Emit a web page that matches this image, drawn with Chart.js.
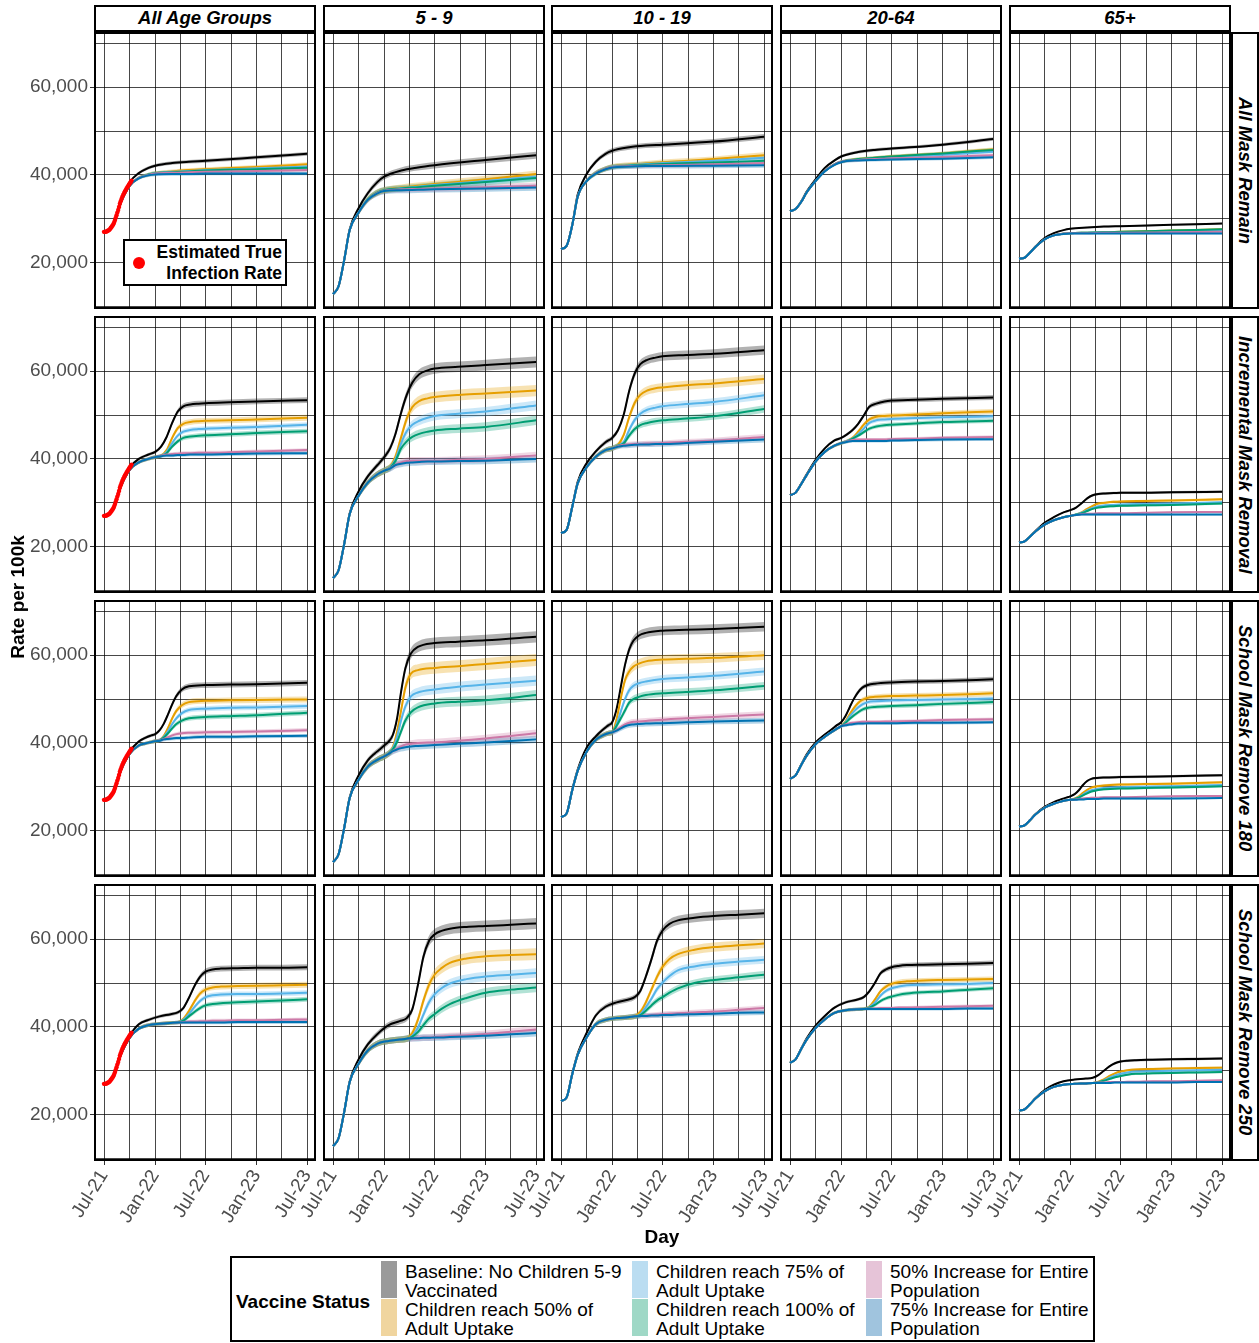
<!DOCTYPE html>
<html>
<head>
<meta charset="utf-8">
<script src="https://cdn.jsdelivr.net/npm/chart.js@4.4.1/dist/chart.umd.min.js"></script>
<style>
  body { margin: 0; background: #fff; width: 1259px; height: 1343px; position: relative; overflow: hidden;
         font-family: 'Liberation Sans', Arial, sans-serif; color: #000; }
  canvas { position: absolute; }
  .overlay { position: absolute; z-index: 2; }
  .strip-top { position: absolute; z-index: 2; top: 5px; height: 27px; box-sizing: border-box; border: 2px solid #000;
               background: #fff; font-weight: bold; font-style: italic; font-size: 18.5px; line-height: 22px; text-align: center; }
  .strip-right { position: absolute; z-index: 2; left: 1231px; width: 28px; box-sizing: border-box; border: 2px solid #000;
                 background: #fff; font-weight: bold; font-style: italic; font-size: 18.5px; writing-mode: vertical-rl;
                 text-align: center; line-height: 24px; }
  .key { position: absolute; z-index: 2; width: 16px; height: 37px; }
  .key-text { position: absolute; z-index: 2; font-size: 19px; line-height: 19px; white-space: pre-line; }
</style>
</head>
<body>
<div class="overlay" style="left:-132px; top:586px; width:300px; text-align:center; font-weight:bold; font-size:19px; transform:rotate(-90deg);">Rate per 100k</div>
<div class="overlay" style="left:612px; top:1226px; width:100px; text-align:center; font-weight:bold; font-size:19px;">Day</div>
<div class="overlay" style="left:123px; top:239px; width:164px; height:47px; box-sizing:border-box; border:2px solid #000; background:#fff;">
  <span style="position:absolute; left:8px; top:16px; width:12px; height:12px; border-radius:50%; background:#ff0000;"></span>
  <div style="position:absolute; right:3px; top:1px; text-align:right; font-weight:bold; font-size:17.5px; line-height:21px;">Estimated True<br>Infection Rate</div>
</div>
<div class="overlay" style="left:230px; top:1256px; width:865px; height:86px; box-sizing:border-box; border:2px solid #000; background:#fff;"></div>
<div class="overlay" style="left:236px; top:1291px; font-weight:bold; font-size:19px;">Vaccine Status</div>
<script>
// ---- categories and ticks ----
const ageGroups = ['All Age Groups', '5 - 9', '10 - 19', '20-64', '65+'];
const maskScenarios = ['All Mask Remain', 'Incremental Mask Removal', 'School Mask Remove 180', 'School Mask Remove 250'];
const vaccineStatus = [
    'Baseline: No Children 5-9\nVaccinated',
    'Children reach 50% of\nAdult Uptake',
    'Children reach 75% of\nAdult Uptake',
    'Children reach 100% of\nAdult Uptake',
    '50% Increase for Entire\nPopulation',
    '75% Increase for Entire\nPopulation'
];
// days since 2021-07-01
const tickDays = [0, 92, 184, 274, 365, 457, 549, 639, 730];
const tickLabels = ['Jul-21', '', 'Jan-22', '', 'Jul-22', '', 'Jan-23', '', 'Jul-23'];
const yTicks = [10, 20, 30, 40, 50, 60, 70]; // thousands

// observed estimate (first column)
const redDays = [0, 3, 6, 9, 12, 15, 18, 21, 24, 27, 30, 33, 36, 39, 42, 45, 48, 51, 54, 57,
                 60, 63, 66, 69, 72, 75, 78, 81, 84, 87, 90, 93, 96, 99];
const redRate = [27.0, 27.0, 27.0, 27.1, 27.2, 27.3, 27.4, 27.6, 27.9, 28.1, 28.4, 28.7, 29.1, 29.6, 30.2, 30.8, 31.4, 32.0, 32.7, 33.4,
                 34.0, 34.5, 35.0, 35.4, 35.8, 36.2, 36.5, 36.9, 37.2, 37.5, 37.8, 38.1, 38.4, 38.7];

// ---- x positions per mask scenario (days) ----
const daysRemain = [0, 20, 40, 60, 92, 125, 160, 184, 245, 305, 365, 549, 730];
const daysIncr = [0, 20, 40, 60, 92, 125, 160, 184, 205, 225, 245, 265, 285, 310, 340, 365, 450, 549, 730];
const days180 = [0, 20, 40, 60, 92, 125, 150, 170, 184, 200, 215, 230, 245, 260, 280, 305, 365, 450, 549, 730];
const days250 = [0, 20, 40, 60, 92, 125, 160, 200, 240, 265, 285, 305, 325, 345, 365, 390, 420, 480, 549, 640, 730];

// rates per 100k in thousands; series order: baseline, 50%, 75%, 100%, +50% all, +75% all
const remainAll = [
    [27.0, 27.5, 29.8, 34.0, 38.3, 40.4, 41.6, 42.1, 42.7, 43.0, 43.2, 44.0, 44.8],
    [27.0, 27.5, 29.7, 33.6, 37.5, 39.3, 40.1, 40.4, 40.8, 41.1, 41.3, 41.8, 42.4],
    [27.0, 27.5, 29.7, 33.6, 37.5, 39.3, 40.1, 40.4, 40.7, 40.9, 41.1, 41.5, 41.9],
    [27.0, 27.5, 29.7, 33.6, 37.5, 39.3, 40.1, 40.4, 40.6, 40.8, 41.0, 41.3, 41.6],
    [27.0, 27.5, 29.7, 33.6, 37.5, 39.3, 40.0, 40.3, 40.5, 40.6, 40.7, 40.9, 41.1],
    [27.0, 27.5, 29.7, 33.6, 37.5, 39.2, 39.9, 40.1, 40.2, 40.2, 40.3, 40.3, 40.3]
];
const remain5to9 = [
    [12.8, 14.6, 20.6, 27.6, 32.4, 35.8, 38.4, 39.6, 41.0, 41.7, 42.2, 43.4, 44.5],
    [12.8, 14.6, 20.5, 27.4, 31.4, 34.4, 36.0, 36.5, 37.1, 37.5, 37.9, 39.0, 40.2],
    [12.8, 14.6, 20.5, 27.4, 31.4, 34.4, 36.0, 36.5, 37.0, 37.3, 37.7, 38.6, 39.6],
    [12.8, 14.6, 20.5, 27.4, 31.4, 34.4, 36.0, 36.5, 36.9, 37.2, 37.5, 38.4, 39.3],
    [12.8, 14.6, 20.5, 27.4, 31.4, 34.3, 35.9, 36.4, 36.7, 36.8, 36.9, 37.2, 37.5],
    [12.8, 14.6, 20.5, 27.4, 31.4, 34.3, 35.8, 36.3, 36.5, 36.6, 36.7, 36.9, 37.1]
];
const remain10to19 = [
    [23.1, 23.8, 28.5, 35.5, 40.2, 43.0, 44.8, 45.5, 46.3, 46.7, 46.9, 47.6, 48.7],
    [23.1, 23.8, 28.4, 35.0, 38.6, 40.4, 41.4, 41.9, 42.3, 42.6, 42.9, 43.6, 44.5],
    [23.1, 23.8, 28.4, 35.0, 38.6, 40.4, 41.4, 41.9, 42.2, 42.5, 42.7, 43.2, 43.9],
    [23.1, 23.8, 28.4, 35.0, 38.6, 40.4, 41.4, 41.8, 42.1, 42.3, 42.5, 42.8, 43.2],
    [23.1, 23.8, 28.4, 35.0, 38.6, 40.4, 41.4, 41.8, 42.0, 42.1, 42.2, 42.4, 42.7],
    [23.1, 23.8, 28.4, 35.0, 38.6, 40.3, 41.3, 41.7, 41.9, 42.0, 42.0, 42.1, 42.2]
];
const remain20to64 = [
    [31.7, 32.2, 33.9, 36.2, 39.0, 41.6, 43.3, 44.2, 45.2, 45.7, 46.0, 46.9, 48.2],
    [31.7, 32.2, 33.8, 36.0, 38.6, 40.9, 42.4, 43.0, 43.6, 43.9, 44.2, 44.9, 45.8],
    [31.7, 32.2, 33.8, 36.0, 38.6, 40.9, 42.4, 43.0, 43.5, 43.8, 44.0, 44.6, 45.3],
    [31.7, 32.2, 33.8, 36.0, 38.6, 40.9, 42.4, 43.0, 43.6, 43.9, 44.2, 44.9, 45.7],
    [31.7, 32.2, 33.8, 36.0, 38.6, 40.9, 42.4, 43.0, 43.4, 43.6, 43.8, 44.1, 44.5],
    [31.7, 32.2, 33.8, 36.0, 38.6, 40.8, 42.3, 42.9, 43.3, 43.4, 43.5, 43.7, 44.0]
];
const remain65plus = [
    [20.9, 21.1, 22.3, 23.7, 25.6, 26.7, 27.4, 27.7, 28.0, 28.2, 28.3, 28.6, 28.9],
    [20.9, 21.1, 22.3, 23.6, 25.3, 26.2, 26.6, 26.7, 26.8, 26.9, 27.0, 27.3, 27.6],
    [20.9, 21.1, 22.3, 23.6, 25.3, 26.2, 26.6, 26.7, 26.8, 26.9, 26.9, 27.1, 27.3],
    [20.9, 21.1, 22.3, 23.6, 25.3, 26.2, 26.6, 26.7, 26.8, 26.9, 27.0, 27.3, 27.6],
    [20.9, 21.1, 22.3, 23.6, 25.3, 26.2, 26.6, 26.7, 26.7, 26.8, 26.8, 26.9, 27.0],
    [20.9, 21.1, 22.3, 23.6, 25.3, 26.2, 26.5, 26.6, 26.6, 26.6, 26.6, 26.6, 26.6]
];

const incrAll = [
    [27.0, 27.5, 29.8, 34.0, 38.0, 40.0, 41.0, 41.6, 42.8, 45.0, 48.2, 50.8, 52.0, 52.4, 52.6, 52.7, 52.9, 53.1, 53.4],
    [27.0, 27.5, 29.7, 33.6, 37.5, 39.2, 40.0, 40.4, 40.7, 42.0, 44.8, 47.0, 48.0, 48.4, 48.6, 48.7, 48.8, 49.0, 49.4],
    [27.0, 27.5, 29.7, 33.6, 37.5, 39.2, 40.0, 40.4, 40.7, 41.6, 43.6, 45.3, 46.2, 46.6, 46.8, 46.9, 47.1, 47.3, 47.8],
    [27.0, 27.5, 29.7, 33.6, 37.5, 39.2, 40.0, 40.4, 40.7, 41.3, 42.8, 44.0, 44.8, 45.1, 45.3, 45.4, 45.6, 45.9, 46.3],
    [27.0, 27.5, 29.7, 33.6, 37.5, 39.2, 40.0, 40.4, 40.7, 41.0, 41.1, 41.2, 41.3, 41.3, 41.4, 41.4, 41.5, 41.7, 42.0],
    [27.0, 27.5, 29.7, 33.6, 37.5, 39.2, 40.0, 40.4, 40.6, 40.8, 40.8, 40.9, 40.9, 41.0, 41.0, 41.0, 41.1, 41.2, 41.3]
];
const incr5to9 = [
    [12.8, 14.6, 20.6, 27.6, 32.6, 36.0, 38.6, 40.4, 42.4, 45.8, 50.6, 54.6, 57.4, 59.3, 60.2, 60.6, 61.0, 61.4, 62.1],
    [12.8, 14.6, 20.5, 27.4, 31.6, 34.6, 36.5, 37.3, 38.2, 40.6, 45.0, 49.2, 51.8, 53.2, 53.8, 54.1, 54.6, 54.9, 55.6],
    [12.8, 14.6, 20.5, 27.4, 31.6, 34.6, 36.5, 37.3, 38.1, 40.0, 43.6, 46.3, 47.8, 48.7, 49.4, 49.8, 50.3, 50.8, 52.2],
    [12.8, 14.6, 20.5, 27.4, 31.6, 34.6, 36.5, 37.3, 38.0, 39.6, 42.4, 44.0, 45.0, 45.7, 46.2, 46.5, 46.9, 47.3, 48.8],
    [12.8, 14.6, 20.5, 27.4, 31.6, 34.6, 36.5, 37.3, 37.9, 38.7, 39.2, 39.5, 39.6, 39.6, 39.6, 39.6, 39.8, 40.0, 40.8],
    [12.8, 14.6, 20.5, 27.4, 31.6, 34.6, 36.5, 37.3, 37.8, 38.6, 38.9, 39.1, 39.2, 39.3, 39.4, 39.4, 39.5, 39.6, 40.0]
];
const incr10to19 = [
    [23.1, 23.8, 29.0, 34.8, 39.0, 41.7, 43.8, 44.8, 46.6, 50.0, 55.5, 59.5, 61.6, 62.6, 63.1, 63.4, 63.7, 64.0, 64.8],
    [23.1, 23.8, 28.9, 34.4, 38.1, 40.5, 42.0, 42.4, 43.2, 45.4, 49.5, 52.8, 54.6, 55.6, 56.1, 56.3, 56.8, 57.2, 58.2],
    [23.1, 23.8, 28.9, 34.4, 38.1, 40.5, 42.0, 42.4, 43.1, 43.8, 46.6, 48.9, 50.3, 51.2, 51.7, 52.0, 52.5, 53.0, 54.5],
    [23.1, 23.8, 28.9, 34.4, 38.1, 40.5, 42.0, 42.4, 43.0, 43.5, 45.3, 46.8, 47.7, 48.2, 48.6, 48.8, 49.2, 49.7, 51.4],
    [23.1, 23.8, 28.9, 34.4, 38.1, 40.5, 42.0, 42.4, 42.9, 43.2, 43.3, 43.4, 43.4, 43.5, 43.5, 43.6, 43.9, 44.2, 45.0],
    [23.1, 23.8, 28.9, 34.4, 38.1, 40.5, 42.0, 42.4, 42.8, 43.0, 43.1, 43.2, 43.3, 43.3, 43.4, 43.4, 43.6, 43.9, 44.4]
];
const incr20to64 = [
    [31.7, 32.3, 34.3, 36.5, 39.8, 42.4, 44.2, 44.8, 45.6, 46.6, 48.0, 49.9, 51.9, 52.6, 53.1, 53.3, 53.5, 53.7, 54.0],
    [31.7, 32.3, 34.2, 36.3, 39.4, 41.6, 43.0, 43.6, 44.1, 44.8, 46.2, 47.8, 49.0, 49.6, 49.8, 49.9, 50.1, 50.4, 50.8],
    [31.7, 32.3, 34.2, 36.3, 39.4, 41.6, 43.0, 43.6, 44.1, 44.7, 45.7, 46.9, 48.2, 48.8, 49.0, 49.1, 49.3, 49.5, 49.7],
    [31.7, 32.3, 34.2, 36.3, 39.4, 41.6, 43.0, 43.6, 44.0, 44.6, 45.3, 46.1, 46.9, 47.4, 47.7, 47.8, 48.1, 48.4, 48.7],
    [31.7, 32.3, 34.2, 36.3, 39.4, 41.6, 43.0, 43.6, 44.0, 44.3, 44.4, 44.4, 44.4, 44.4, 44.4, 44.5, 44.6, 44.8, 45.0],
    [31.7, 32.3, 34.2, 36.3, 39.4, 41.6, 43.0, 43.6, 43.9, 44.1, 44.1, 44.1, 44.1, 44.1, 44.1, 44.2, 44.3, 44.4, 44.5]
];
const incr65plus = [
    [20.9, 21.2, 22.3, 23.6, 25.4, 26.7, 27.8, 28.3, 28.9, 29.9, 31.0, 31.7, 32.0, 32.1, 32.2, 32.3, 32.3, 32.4, 32.5],
    [20.9, 21.2, 22.3, 23.5, 25.0, 26.0, 26.7, 27.0, 27.3, 27.8, 28.6, 29.3, 29.8, 30.0, 30.2, 30.3, 30.4, 30.5, 30.8],
    [20.9, 21.2, 22.3, 23.5, 25.0, 26.0, 26.7, 27.0, 27.3, 27.7, 28.3, 28.8, 29.2, 29.4, 29.5, 29.6, 29.7, 29.8, 30.1],
    [20.9, 21.2, 22.3, 23.5, 25.0, 26.0, 26.7, 27.0, 27.3, 27.6, 28.1, 28.6, 28.9, 29.1, 29.2, 29.3, 29.4, 29.5, 29.8],
    [20.9, 21.2, 22.3, 23.5, 25.0, 26.0, 26.7, 27.0, 27.2, 27.4, 27.5, 27.5, 27.6, 27.6, 27.6, 27.6, 27.7, 27.8, 27.9],
    [20.9, 21.2, 22.3, 23.5, 25.0, 26.0, 26.7, 27.0, 27.2, 27.3, 27.3, 27.3, 27.3, 27.3, 27.3, 27.3, 27.3, 27.3, 27.3]
];

const school180All = [
    [27.0, 27.5, 29.8, 34.0, 38.0, 40.3, 41.2, 41.7, 42.0, 42.9, 44.4, 46.5, 48.8, 50.7, 52.2, 52.9, 53.2, 53.3, 53.4, 53.7],
    [27.0, 27.5, 29.7, 33.6, 37.5, 39.4, 39.9, 40.2, 40.4, 40.6, 41.6, 43.4, 45.6, 47.3, 48.6, 49.3, 49.6, 49.7, 49.8, 49.9],
    [27.0, 27.5, 29.7, 33.6, 37.5, 39.4, 39.9, 40.2, 40.4, 40.6, 41.4, 42.7, 44.3, 45.6, 46.8, 47.5, 47.8, 48.0, 48.1, 48.4],
    [27.0, 27.5, 29.7, 33.6, 37.5, 39.4, 39.9, 40.2, 40.4, 40.6, 41.2, 42.2, 43.3, 44.3, 45.1, 45.6, 45.9, 46.1, 46.3, 46.9],
    [27.0, 27.5, 29.7, 33.6, 37.5, 39.4, 39.9, 40.2, 40.4, 40.6, 40.9, 41.3, 41.7, 42.0, 42.2, 42.3, 42.4, 42.5, 42.6, 42.9],
    [27.0, 27.5, 29.7, 33.6, 37.5, 39.4, 39.9, 40.2, 40.4, 40.5, 40.8, 40.9, 41.0, 41.1, 41.1, 41.2, 41.4, 41.4, 41.5, 41.6]
];
const school1805to9 = [
    [12.8, 14.6, 20.6, 27.6, 32.6, 36.0, 37.6, 38.6, 39.4, 40.3, 41.8, 45.5, 51.8, 57.0, 60.4, 61.9, 62.8, 63.1, 63.4, 64.2],
    [12.8, 14.6, 20.5, 27.4, 31.6, 34.6, 35.8, 36.5, 36.9, 37.6, 39.0, 42.5, 47.5, 52.6, 55.8, 56.6, 57.1, 57.5, 58.0, 58.9],
    [12.8, 14.6, 20.5, 27.4, 31.6, 34.6, 35.8, 36.5, 36.9, 37.6, 38.8, 41.4, 45.2, 48.3, 50.6, 51.5, 52.2, 52.8, 53.3, 54.2],
    [12.8, 14.6, 20.5, 27.4, 31.6, 34.6, 35.8, 36.5, 36.9, 37.6, 38.5, 40.2, 42.7, 45.1, 47.0, 48.1, 49.0, 49.4, 49.7, 50.9],
    [12.8, 14.6, 20.5, 27.4, 31.6, 34.6, 35.8, 36.5, 36.9, 37.5, 38.2, 38.7, 39.2, 39.6, 39.8, 40.0, 40.1, 40.5, 41.0, 42.2],
    [12.8, 14.6, 20.5, 27.4, 31.6, 34.6, 35.8, 36.5, 36.9, 37.5, 38.1, 38.5, 38.8, 39.0, 39.2, 39.3, 39.5, 39.8, 40.1, 40.8]
];
const school18010to19 = [
    [23.1, 23.9, 29.2, 33.9, 38.9, 41.5, 43.0, 44.0, 44.7, 47.8, 52.8, 57.8, 61.3, 63.3, 64.5, 65.1, 65.6, 65.8, 66.0, 66.5],
    [23.1, 23.9, 29.1, 33.6, 38.0, 40.7, 41.7, 42.2, 42.4, 45.5, 50.2, 54.3, 56.3, 57.4, 58.1, 58.6, 59.0, 59.2, 59.4, 60.0],
    [23.1, 23.9, 29.1, 33.6, 38.0, 40.7, 41.7, 42.2, 42.4, 44.3, 47.2, 50.0, 52.0, 53.0, 53.6, 54.0, 54.6, 54.9, 55.3, 56.3],
    [23.1, 23.9, 29.1, 33.6, 38.0, 40.7, 41.7, 42.2, 42.4, 43.9, 45.6, 47.4, 49.2, 50.0, 50.5, 50.9, 51.3, 51.6, 52.0, 53.0],
    [23.1, 23.9, 29.1, 33.6, 38.0, 40.7, 41.7, 42.2, 42.4, 43.0, 43.6, 44.2, 44.6, 44.8, 44.9, 45.0, 45.3, 45.6, 45.9, 46.5],
    [23.1, 23.9, 29.1, 33.6, 38.0, 40.7, 41.7, 42.2, 42.4, 42.8, 43.3, 43.8, 44.1, 44.2, 44.3, 44.4, 44.5, 44.7, 44.9, 45.1]
];
const school18020to64 = [
    [31.8, 32.6, 35.0, 37.4, 40.1, 41.9, 43.1, 44.1, 44.7, 46.2, 48.2, 50.1, 51.6, 52.6, 53.2, 53.5, 53.8, 54.0, 54.1, 54.5],
    [31.8, 32.6, 34.9, 37.1, 39.7, 41.4, 42.5, 43.3, 43.8, 45.0, 46.6, 48.0, 49.1, 49.8, 50.3, 50.5, 50.7, 50.8, 50.9, 51.3],
    [31.8, 32.6, 34.9, 37.1, 39.7, 41.4, 42.5, 43.3, 43.8, 44.8, 46.1, 47.2, 48.1, 48.8, 49.3, 49.5, 49.7, 49.8, 49.9, 50.1],
    [31.8, 32.6, 34.9, 37.1, 39.7, 41.4, 42.5, 43.3, 43.8, 44.6, 45.5, 46.3, 47.0, 47.6, 48.0, 48.2, 48.4, 48.6, 48.9, 49.3],
    [31.8, 32.6, 34.9, 37.1, 39.7, 41.4, 42.5, 43.3, 43.8, 44.2, 44.5, 44.6, 44.7, 44.8, 44.8, 44.8, 44.9, 45.0, 45.2, 45.4],
    [31.8, 32.6, 34.9, 37.1, 39.7, 41.4, 42.5, 43.3, 43.8, 44.0, 44.2, 44.3, 44.4, 44.4, 44.5, 44.5, 44.5, 44.6, 44.6, 44.7]
];
const school18065plus = [
    [20.9, 21.2, 22.4, 23.8, 25.4, 26.5, 27.1, 27.5, 27.8, 28.3, 29.2, 30.4, 31.3, 31.8, 32.0, 32.1, 32.2, 32.3, 32.4, 32.6],
    [20.9, 21.2, 22.4, 23.7, 25.2, 26.1, 26.6, 26.9, 27.0, 27.3, 27.8, 28.6, 29.3, 29.8, 30.1, 30.3, 30.5, 30.6, 30.7, 31.0],
    [20.9, 21.2, 22.4, 23.7, 25.2, 26.1, 26.6, 26.9, 27.0, 27.2, 27.6, 28.2, 28.8, 29.2, 29.5, 29.7, 29.9, 30.0, 30.1, 30.4],
    [20.9, 21.2, 22.4, 23.7, 25.2, 26.1, 26.6, 26.9, 27.0, 27.2, 27.5, 28.0, 28.5, 28.9, 29.2, 29.4, 29.6, 29.7, 29.8, 30.1],
    [20.9, 21.2, 22.4, 23.7, 25.2, 26.1, 26.6, 26.9, 27.0, 27.1, 27.2, 27.3, 27.4, 27.5, 27.5, 27.6, 27.6, 27.7, 27.8, 27.9],
    [20.9, 21.2, 22.4, 23.7, 25.2, 26.1, 26.6, 26.9, 27.0, 27.0, 27.1, 27.1, 27.2, 27.2, 27.2, 27.3, 27.3, 27.3, 27.3, 27.4]
];

const school250All = [
    [27.0, 27.5, 29.8, 34.0, 38.0, 40.6, 41.6, 42.4, 42.9, 43.3, 44.3, 46.6, 49.3, 51.4, 52.6, 53.1, 53.3, 53.4, 53.5, 53.5, 53.6],
    [27.0, 27.5, 29.7, 33.6, 37.5, 39.6, 40.4, 40.7, 40.9, 41.0, 41.8, 43.6, 45.8, 47.6, 48.5, 49.0, 49.2, 49.3, 49.4, 49.5, 49.6],
    [27.0, 27.5, 29.7, 33.6, 37.5, 39.6, 40.4, 40.7, 40.9, 41.0, 41.6, 42.9, 44.5, 45.9, 46.8, 47.2, 47.4, 47.5, 47.5, 47.6, 47.8],
    [27.0, 27.5, 29.7, 33.6, 37.5, 39.6, 40.4, 40.7, 40.9, 41.0, 41.4, 42.4, 43.4, 44.3, 44.9, 45.2, 45.4, 45.6, 45.8, 46.0, 46.3],
    [27.0, 27.5, 29.7, 33.6, 37.5, 39.6, 40.4, 40.7, 40.9, 41.0, 41.1, 41.2, 41.2, 41.3, 41.3, 41.4, 41.4, 41.5, 41.5, 41.6, 41.7],
    [27.0, 27.5, 29.7, 33.6, 37.5, 39.6, 40.4, 40.7, 40.9, 41.0, 41.0, 41.0, 41.0, 41.0, 41.0, 41.0, 41.0, 41.1, 41.1, 41.1, 41.1]
];
const school2505to9 = [
    [12.8, 14.6, 20.6, 27.6, 32.6, 36.0, 38.4, 40.4, 41.3, 42.0, 44.0, 49.5, 56.0, 59.6, 61.1, 61.9, 62.4, 62.8, 63.0, 63.3, 63.6],
    [12.8, 14.6, 20.5, 27.4, 31.6, 34.6, 36.2, 36.8, 37.1, 37.3, 38.6, 41.6, 46.0, 49.6, 51.9, 53.4, 54.6, 55.6, 56.1, 56.4, 56.6],
    [12.8, 14.6, 20.5, 27.4, 31.6, 34.6, 36.2, 36.8, 37.1, 37.3, 38.0, 39.8, 42.8, 45.6, 47.4, 48.8, 49.9, 50.9, 51.5, 51.9, 52.3],
    [12.8, 14.6, 20.5, 27.4, 31.6, 34.6, 36.2, 36.8, 37.1, 37.3, 37.8, 38.8, 40.4, 41.9, 42.9, 44.1, 45.2, 46.6, 47.8, 48.5, 49.0],
    [12.8, 14.6, 20.5, 27.4, 31.6, 34.6, 36.2, 36.8, 37.1, 37.3, 37.4, 37.5, 37.6, 37.6, 37.7, 37.8, 37.9, 38.1, 38.4, 38.9, 39.4],
    [12.8, 14.6, 20.5, 27.4, 31.6, 34.6, 36.2, 36.8, 37.1, 37.3, 37.4, 37.4, 37.5, 37.5, 37.6, 37.6, 37.7, 37.8, 38.0, 38.3, 38.6]
];
const school25010to19 = [
    [23.1, 23.9, 29.2, 33.9, 38.6, 42.6, 44.6, 45.6, 46.2, 46.8, 48.2, 51.5, 55.4, 59.6, 62.0, 63.5, 64.3, 64.9, 65.3, 65.6, 65.9],
    [23.1, 23.9, 29.1, 33.6, 37.6, 40.6, 41.6, 42.0, 42.2, 42.4, 43.4, 45.6, 48.5, 51.4, 53.7, 55.5, 56.6, 57.6, 58.2, 58.6, 59.0],
    [23.1, 23.9, 29.1, 33.6, 37.6, 40.6, 41.6, 42.0, 42.2, 42.4, 42.9, 44.5, 46.4, 48.6, 50.1, 51.6, 52.9, 53.8, 54.4, 54.9, 55.3],
    [23.1, 23.9, 29.1, 33.6, 37.6, 40.6, 41.6, 42.0, 42.2, 42.4, 42.7, 43.7, 44.9, 46.0, 46.8, 47.8, 48.8, 50.0, 50.7, 51.3, 51.9],
    [23.1, 23.9, 29.1, 33.6, 37.6, 40.6, 41.6, 42.0, 42.2, 42.4, 42.5, 42.6, 42.7, 42.8, 42.9, 43.0, 43.1, 43.3, 43.5, 43.9, 44.3],
    [23.1, 23.9, 29.1, 33.6, 37.6, 40.6, 41.6, 42.0, 42.2, 42.4, 42.5, 42.5, 42.6, 42.6, 42.7, 42.7, 42.8, 42.9, 43.0, 43.2, 43.3]
];
const school25020to64 = [
    [31.8, 32.6, 35.0, 37.4, 40.3, 42.5, 44.4, 45.6, 46.2, 46.8, 48.1, 50.0, 52.2, 53.1, 53.6, 53.9, 54.1, 54.2, 54.3, 54.4, 54.6],
    [31.8, 32.6, 34.9, 37.1, 39.7, 41.7, 43.2, 43.8, 44.0, 44.1, 44.6, 46.2, 48.1, 49.2, 49.8, 50.2, 50.4, 50.6, 50.7, 50.8, 50.9],
    [31.8, 32.6, 34.9, 37.1, 39.7, 41.7, 43.2, 43.8, 44.0, 44.1, 44.5, 45.5, 47.1, 48.2, 48.8, 49.2, 49.5, 49.6, 49.7, 49.8, 50.0],
    [31.8, 32.6, 34.9, 37.1, 39.7, 41.7, 43.2, 43.8, 44.0, 44.1, 44.4, 45.0, 45.9, 46.5, 46.9, 47.3, 47.6, 47.9, 48.1, 48.5, 48.8],
    [31.8, 32.6, 34.9, 37.1, 39.7, 41.7, 43.2, 43.8, 44.0, 44.1, 44.2, 44.2, 44.3, 44.3, 44.3, 44.4, 44.4, 44.5, 44.6, 44.7, 44.8],
    [31.8, 32.6, 34.9, 37.1, 39.7, 41.7, 43.2, 43.8, 44.0, 44.1, 44.1, 44.1, 44.1, 44.1, 44.1, 44.1, 44.1, 44.1, 44.1, 44.2, 44.2]
];
const school25065plus = [
    [20.9, 21.2, 22.4, 23.8, 25.6, 26.8, 27.6, 28.0, 28.2, 28.4, 29.0, 30.0, 31.0, 31.7, 32.1, 32.3, 32.4, 32.5, 32.6, 32.7, 32.8],
    [20.9, 21.2, 22.4, 23.7, 25.3, 26.3, 26.8, 27.0, 27.1, 27.2, 27.5, 28.0, 28.8, 29.4, 29.8, 30.1, 30.3, 30.4, 30.5, 30.6, 30.7],
    [20.9, 21.2, 22.4, 23.7, 25.3, 26.3, 26.8, 27.0, 27.1, 27.2, 27.4, 27.8, 28.4, 28.9, 29.3, 29.6, 29.8, 29.9, 30.0, 30.1, 30.2],
    [20.9, 21.2, 22.4, 23.7, 25.3, 26.3, 26.8, 27.0, 27.1, 27.2, 27.4, 27.7, 28.1, 28.5, 28.8, 29.1, 29.3, 29.4, 29.5, 29.6, 29.7],
    [20.9, 21.2, 22.4, 23.7, 25.3, 26.3, 26.8, 27.0, 27.1, 27.2, 27.3, 27.3, 27.4, 27.4, 27.4, 27.5, 27.5, 27.6, 27.6, 27.7, 27.8],
    [20.9, 21.2, 22.4, 23.7, 25.3, 26.3, 26.8, 27.0, 27.1, 27.2, 27.2, 27.2, 27.2, 27.3, 27.3, 27.3, 27.3, 27.3, 27.3, 27.4, 27.4]
];

// ---- styling ----
const lineColors = ['#000000', '#E69F00', '#56B4E9', '#009E73', '#CC79A7', '#0072B2'];
const bandColors = ['rgba(0,0,0,0.3)', 'rgba(230,159,0,0.3)', 'rgba(86,180,233,0.3)',
                    'rgba(0,158,115,0.3)', 'rgba(204,121,167,0.3)', 'rgba(0,114,178,0.3)'];
const keyColors = ['#9a9a9a', '#f0d59f', '#bbddf1', '#9fd8c6', '#e6c4d8', '#a0c4de'];
const bandFrac = [0.025, 0.03, 0.028, 0.03, 0.03, 0.03];

const panelLeft = [94, 323, 551, 780, 1009];
const panelTop = [32, 316, 600, 884];
const PANEL_W = 222, PANEL_H = 277;

const rowDays = [daysRemain, daysIncr, days180, days250];
const panelSeries = [
    [remainAll, remain5to9, remain10to19, remain20to64, remain65plus],
    [incrAll, incr5to9, incr10to19, incr20to64, incr65plus],
    [school180All, school1805to9, school18010to19, school18020to64, school18065plus],
    [school250All, school2505to9, school25010to19, school25020to64, school25065plus]
];

Chart.defaults.font.family = "'Liberation Sans', Arial, sans-serif";

// Panel border drawn inside the plot area
const panelBorder = {
    id: 'panelBorder',
    afterDraw(chart) {
        const { ctx, chartArea: a } = chart;
        ctx.save();
        ctx.strokeStyle = '#000';
        ctx.lineWidth = 2;
        ctx.strokeRect(a.left + 1, a.top + 1, a.width - 2, a.height - 2);
        ctx.restore();
    }
};

function buildDatasets(days, series, withRed) {
    const sets = [];
    // ribbons
    series.forEach((vals, i) => {
        const v0 = vals[0];
        sets.push({
            data: days.map((d, k) => ({ x: d, y: vals[k] + bandFrac[i] * (vals[k] - v0) })),
            borderWidth: 0, borderColor: 'transparent', pointRadius: 0, fill: false,
            cubicInterpolationMode: 'monotone', order: 10
        });
        sets.push({
            data: days.map((d, k) => ({ x: d, y: vals[k] - bandFrac[i] * (vals[k] - v0) })),
            borderWidth: 0, borderColor: 'transparent', pointRadius: 0, fill: '-1',
            backgroundColor: bandColors[i], cubicInterpolationMode: 'monotone', order: 10
        });
    });
    // lines
    series.forEach((vals, i) => {
        sets.push({
            data: days.map((d, k) => ({ x: d, y: vals[k] })),
            borderColor: lineColors[i], borderWidth: 2, pointRadius: 0, fill: false,
            cubicInterpolationMode: 'monotone', order: 6 - i
        });
    });
    if (withRed) {
        sets.push({
            data: redDays.map((d, k) => ({ x: d, y: redRate[k] })),
            showLine: false, pointRadius: 2.2, pointBackgroundColor: '#ff0000',
            pointBorderWidth: 0, order: -1
        });
    }
    return sets;
}

function zeroPadding(s) {
    s.paddingLeft = 0; s.paddingRight = 0; s.paddingTop = 0; s.paddingBottom = 0;
}

function makePanel(r, c) {
    const yW = c === 0 ? 94 : 0;
    const xH = r === 3 ? 74 : 0;
    const padL = 40;
    const canvas = document.createElement('canvas');
    canvas.width = padL + yW + PANEL_W;
    canvas.height = PANEL_H + xH;
    canvas.style.left = (panelLeft[c] - yW - padL) + 'px';
    canvas.style.top = panelTop[r] + 'px';
    document.body.appendChild(canvas);

    const tickFont = { size: 19 };
    new Chart(canvas, {
        type: 'line',
        data: { datasets: buildDatasets(rowDays[r], panelSeries[r][c], c === 0) },
        options: {
            responsive: false,
            animation: false,
            devicePixelRatio: 1,
            layout: { padding: { left: padL, right: 0, top: 0, bottom: 0 }, autoPadding: false },
            plugins: { legend: { display: false }, tooltip: { enabled: false } },
            scales: {
                x: {
                    type: 'linear', min: -36, max: 762,
                    afterBuildTicks: s => { s.ticks = tickDays.map(v => ({ value: v })); },
                    afterFit: s => { s.height = xH; zeroPadding(s); },
                    border: { display: false },
                    grid: {
                        color: 'rgba(0,0,0,0.72)', lineWidth: 1,
                        drawTicks: r === 3, tickLength: 4,
                        tickColor: ctx => (ctx.tick && ctx.tick.label) ? '#333' : 'rgba(0,0,0,0)'
                    },
                    ticks: {
                        display: r === 3, autoSkip: false, minRotation: 58, maxRotation: 58,
                        padding: 1, color: '#4d4d4d', font: tickFont,
                        callback: (v, i) => tickLabels[i]
                    }
                },
                y: {
                    type: 'linear', min: 9.4, max: 72.6,
                    afterBuildTicks: s => { s.ticks = yTicks.map(v => ({ value: v })); },
                    afterFit: s => { s.width = yW; zeroPadding(s); },
                    border: { display: false },
                    grid: {
                        color: 'rgba(0,0,0,0.72)', lineWidth: 1,
                        drawTicks: c === 0, tickLength: 4,
                        tickColor: ctx => (ctx.tick && ctx.tick.label) ? '#333' : 'rgba(0,0,0,0)'
                    },
                    ticks: {
                        display: c === 0, padding: 2, color: '#4d4d4d', font: tickFont,
                        callback: v => (v % 20 === 0 ? (v * 1000).toLocaleString('en-US') : '')
                    }
                }
            }
        },
        plugins: [panelBorder]
    });
}

for (let r = 0; r < 4; r++) {
    for (let c = 0; c < 5; c++) makePanel(r, c);
}

// strips
ageGroups.forEach((name, c) => {
    const d = document.createElement('div');
    d.className = 'strip-top';
    d.style.left = panelLeft[c] + 'px';
    d.style.width = PANEL_W + 'px';
    d.textContent = name;
    document.body.appendChild(d);
});
maskScenarios.forEach((name, r) => {
    const d = document.createElement('div');
    d.className = 'strip-right';
    d.style.top = panelTop[r] + 'px';
    d.style.height = PANEL_H + 'px';
    d.textContent = name;
    document.body.appendChild(d);
});

// legend keys (two rows per column)
const keyX = [381, 632, 866];
const keyTop = [1261, 1299];
vaccineStatus.forEach((label, i) => {
    const col = Math.floor(i / 2), row = i % 2;
    const k = document.createElement('div');
    k.className = 'key';
    k.style.left = keyX[col] + 'px';
    k.style.top = keyTop[row] + 'px';
    k.style.background = keyColors[i];
    document.body.appendChild(k);
    const t = document.createElement('div');
    t.className = 'key-text';
    t.style.left = (keyX[col] + 24) + 'px';
    t.style.top = (keyTop[row] + 1) + 'px';
    t.textContent = label;
    document.body.appendChild(t);
});
</script>
</body>
</html>
